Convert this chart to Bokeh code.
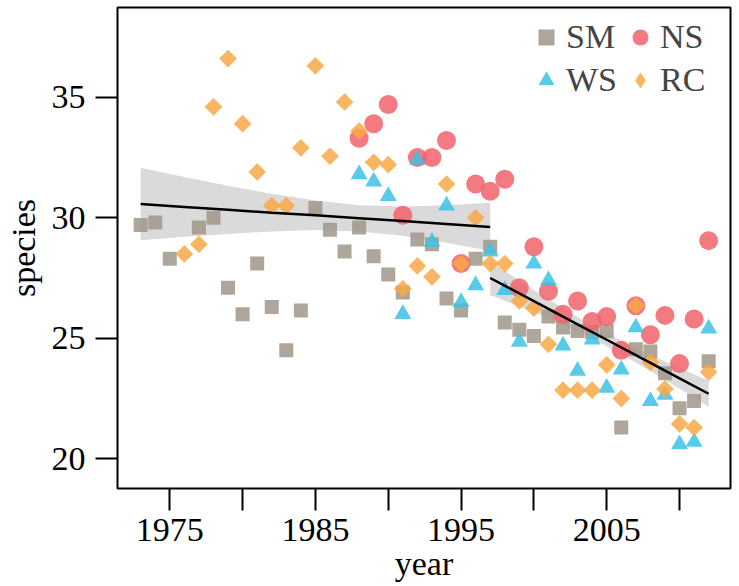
import numpy as np
from bokeh.plotting import figure
from bokeh.models import Legend, LegendItem, FixedTicker, Range1d
from bokeh.embed import file_html
from bokeh.resources import INLINE

# ---------------- data ----------------
sm_years = [1973, 1974, 1975, 1977, 1978, 1979, 1980, 1981, 1982, 1983, 1984, 1985,
            1986, 1987, 1988, 1989, 1990, 1991, 1992, 1993, 1994, 1995, 1996, 1997,
            1998, 1999, 2000, 2001, 2002, 2003, 2004, 2005, 2006, 2007, 2008, 2009,
            2010, 2011, 2012]
sm_vals = [29.7, 29.8, 28.3, 29.6, 30.0, 27.1, 26.0, 28.1, 26.3, 24.5, 26.15, 30.4,
           29.5, 28.6, 29.6, 28.4, 27.65, 26.9, 29.1, 28.9, 26.65, 26.15, 28.3, 28.8,
           25.65, 25.35, 25.1, 25.9, 25.45, 25.3, 25.25, 25.3, 21.3, 24.55, 24.45, 23.55,
           22.1, 22.4, 24.05]

ns_years = list(range(1988, 2013))
ns_vals = [33.3, 33.9, 34.7, 30.1, 32.5, 32.5, 33.2, 28.1, 31.4, 31.1, 31.6, 27.1,
           28.8, 26.95, 26.0, 26.55, 25.7, 25.9, 24.5, 26.35, 25.15, 25.95, 23.95, 25.8, 29.05]

ws_years = list(range(1988, 2013))
ws_vals = [31.8, 31.5, 30.9, 26.0, 32.4, 29.0, 30.5, 26.5, 27.2, 28.6, 27.0, 24.85,
           28.1, 27.4, 24.7, 23.65, 24.95, 22.95, 23.7, 25.45, 22.4, 22.65, 20.6, 20.7, 25.4]

rc_years = list(range(1976, 2013))
rc_vals = [28.5, 28.9, 34.6, 36.6, 33.9, 31.9, 30.5, 30.5, 32.9, 36.3, 32.55, 34.8,
           33.6, 32.3, 32.2, 27.05, 28.0, 27.55, 31.4, 28.1, 30.0, 28.1, 28.1, 26.55,
           26.25, 24.75, 22.85, 22.85, 22.85, 23.9, 22.5, 26.35, 24.0, 22.9, 21.45, 21.3, 23.6]

# linear fits with confidence bands, as seen in the picture
fit1_years = [1973, 1976, 1979, 1982, 1985, 1988, 1991, 1994, 1997]
fit1_vals = [30.57, 30.45, 30.33, 30.21, 30.10, 29.98, 29.86, 29.74, 29.62]
fit1_lo = [29.07, 29.21, 29.33, 29.43, 29.49, 29.43, 29.25, 28.96, 28.62]
fit1_hi = [32.07, 31.69, 31.33, 30.99, 30.71, 30.52, 30.47, 30.52, 30.62]

fit2_years = [1997, 2000, 2003, 2005, 2007, 2010, 2012]
fit2_vals = [27.5, 26.54, 25.58, 24.94, 24.3, 23.34, 22.7]
fit2_lo = [26.8, 26.09, 25.28, 24.67, 24.0, 22.92, 22.15]
fit2_hi = [28.2, 26.99, 25.88, 25.21, 24.6, 23.76, 23.25]

x_ticks = [1975, 1980, 1985, 1990, 1995, 2000, 2005, 2010]
x_tick_labels = {1975: "1975", 1980: "", 1985: "1985", 1990: "", 1995: "1995",
                 2000: "", 2005: "2005", 2010: ""}
y_ticks = [20, 25, 30, 35]

# ---------------- styling ----------------
FONT = "Liberation Serif"
FS = "34px"
C_SM = "#A0968A"
C_NS = "#F0636A"
C_WS = "#3CC2E6"
C_RC = "#F8A845"

p = figure(width=733, height=586,
           x_range=Range1d(1971.41, 2013.5), y_range=Range1d(18.77, 38.72),
           output_backend="svg", toolbar_location=None,
           min_border_left=117, min_border_right=3, min_border_top=7, min_border_bottom=98)

p.grid.visible = False
p.outline_line_color = "black"
p.outline_line_width = 2
p.background_fill_color = "white"
p.border_fill_color = "white"

# confidence bands
p.varea(x=fit1_years, y1=fit1_lo, y2=fit1_hi, fill_color="#DADADA", fill_alpha=1.0)
p.varea(x=fit2_years, y1=fit2_lo, y2=fit2_hi, fill_color="#DADADA", fill_alpha=1.0)

A = 0.85
r_sm = p.scatter(sm_years, sm_vals, marker="square", size=14, fill_color=C_SM,
                 line_color=None, fill_alpha=A)
r_ns = p.scatter(ns_years, ns_vals, marker="circle", size=19, fill_color=C_NS,
                 line_color=None, fill_alpha=A)
r_ws = p.scatter(ws_years, ws_vals, marker="triangle", size=17, fill_color=C_WS,
                 line_color=None, fill_alpha=A)
r_rc = p.scatter(rc_years, rc_vals, marker="square", angle=np.pi / 4, size=12.5,
                 fill_color=C_RC, line_color=None, fill_alpha=A)
# legend-only glyph for RC (diamond shape in the key), not drawn on the plot
r_rc_key = p.scatter(rc_years, rc_vals, marker="diamond", size=22,
                     fill_color=C_RC, line_color=None, fill_alpha=A, visible=False)

p.line(fit1_years, fit1_vals, line_color="black", line_width=2.5)
p.line(fit2_years, fit2_vals, line_color="black", line_width=2.5)

# axes
for ax in (p.xaxis[0], p.yaxis[0]):
    ax.axis_line_color = None
    ax.major_tick_line_color = "black"
    ax.major_tick_line_width = 2
    ax.major_tick_in = 0
    ax.major_tick_out = 22
    ax.minor_tick_line_color = None
    ax.major_label_text_font = FONT
    ax.major_label_text_font_size = FS
    ax.major_label_text_color = "black"
    ax.axis_label_text_font = FONT
    ax.axis_label_text_font_size = FS
    ax.axis_label_text_font_style = "normal"
    ax.axis_label_text_color = "black"

p.xaxis.ticker = FixedTicker(ticks=x_ticks)
p.xaxis.major_label_overrides = x_tick_labels
p.xaxis.major_label_standoff = 8
p.xaxis.axis_label = "year"
p.xaxis.axis_label_standoff = 1

p.yaxis.ticker = FixedTicker(ticks=y_ticks)
p.yaxis.major_label_standoff = 10
p.yaxis.axis_label = "species"
p.yaxis.axis_label_standoff = 7

legend = Legend(items=[LegendItem(label="SM", renderers=[r_sm]),
                       LegendItem(label="NS", renderers=[r_ns]),
                       LegendItem(label="WS", renderers=[r_ws]),
                       LegendItem(label="RC", renderers=[r_rc_key])],
                orientation="horizontal", ncols=2,
                location=(409, 388),
                border_line_color=None, background_fill_alpha=0,
                inactive_fill_alpha=0,
                label_text_font=FONT, label_text_font_size=FS,
                glyph_width=40, glyph_height=40, label_standoff=-11,
                spacing=3, padding=0, margin=0)
p.add_layout(legend)

open("out.html", "w").write(file_html(p, INLINE))
